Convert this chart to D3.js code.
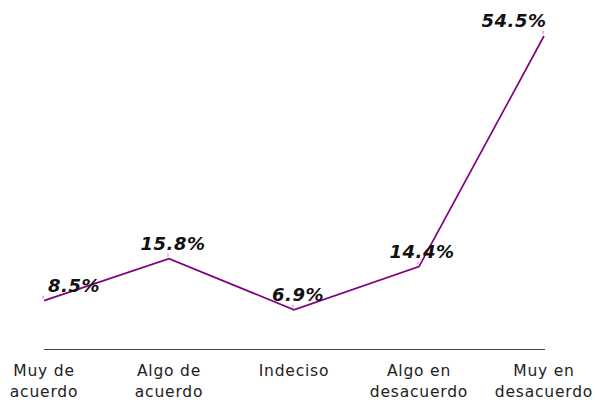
<!DOCTYPE html>
<html>
<head>
<meta charset="utf-8">
<script src="https://cdn.jsdelivr.net/npm/d3@7"></script>
<style>
  body { margin: 0; background: #fff; }
  svg text { font-family: "DejaVu Sans", Verdana, sans-serif; }
</style>
</head>
<body>
<div id="chart"></div>
<script>
// categories (two lines each) and percentages
var categories = ['Muy de acuerdo', 'Algo de acuerdo', 'Indeciso', 'Algo en desacuerdo', 'Muy en desacuerdo'];
var categoryLines = [['Muy de', 'acuerdo'], ['Algo de', 'acuerdo'], ['Indeciso'], ['Algo en', 'desacuerdo'], ['Muy en', 'desacuerdo']];
var values = [8.5, 15.8, 6.9, 14.4, 54.5];
var valueLabels = ['8.5%', '15.8%', '6.9%', '14.4%', '54.5%'];
// label offsets from the point, as in the original
var labelDx = [30, 4, 4, 3, -30];

var width = 595, height = 402;
var lineColor = '#800080';

var svg = d3.select('#chart')
  .append('svg')
  .attr('width', width)
  .attr('height', height);

var x = d3.scalePoint()
  .domain(categories)
  .range([44, 544]);

var y = d3.scaleLinear()
  .domain([0, 54.5])
  .range([349.5, 36]);

// baseline axis
svg.append('line')
  .attr('x1', 44)
  .attr('x2', 545)
  .attr('y1', y(0))
  .attr('y2', y(0))
  .attr('stroke', '#444')
  .attr('stroke-width', 1.2);

// category labels
var cat = svg.selectAll('text.cat')
  .data(categories)
  .enter().append('text')
  .attr('class', 'cat')
  .attr('text-anchor', 'middle')
  .attr('font-size', 15.5)
  .attr('letter-spacing', 0.8)
  .attr('fill', '#222')
  .attr('x', function(d){ return x(d); })
  .attr('y', 376);

cat.each(function(d, i) {
  var t = d3.select(this);
  categoryLines[i].forEach(function(line, j) {
    t.append('tspan')
      .attr('x', x(d))
      .attr('dy', j === 0 ? 0 : 21)
      .text(line);
  });
});

// line
var line = d3.line()
  .x(function(d, i){ return x(categories[i]); })
  .y(function(d){ return y(d); });

svg.append('path')
  .datum(values)
  .attr('d', line)
  .attr('fill', 'none')
  .attr('stroke', lineColor)
  .attr('stroke-width', 1.7);

// little tick marks above each point
svg.selectAll('line.tick')
  .data(values)
  .enter().append('line')
  .attr('class', 'tick')
  .attr('x1', function(d, i){ return x(categories[i]) - 1; })
  .attr('x2', function(d, i){ return x(categories[i]) - 1; })
  .attr('y1', function(d){ return y(d) - 5; })
  .attr('y2', function(d){ return y(d) - 2; })
  .attr('stroke', '#c77fc7')
  .attr('stroke-width', 1);

// value labels
svg.selectAll('text.val')
  .data(values)
  .enter().append('text')
  .attr('class', 'val')
  .attr('text-anchor', 'middle')
  .attr('font-size', 18)
  .attr('font-weight', 'bold')
  .attr('font-style', 'italic')
  .attr('letter-spacing', 0.5)
  .attr('fill', '#111')
  .attr('x', function(d, i){ return x(categories[i]) + labelDx[i]; })
  .attr('y', function(d){ return y(d) - 9; })
  .text(function(d, i){ return valueLabels[i]; });
</script>
</body>
</html>
